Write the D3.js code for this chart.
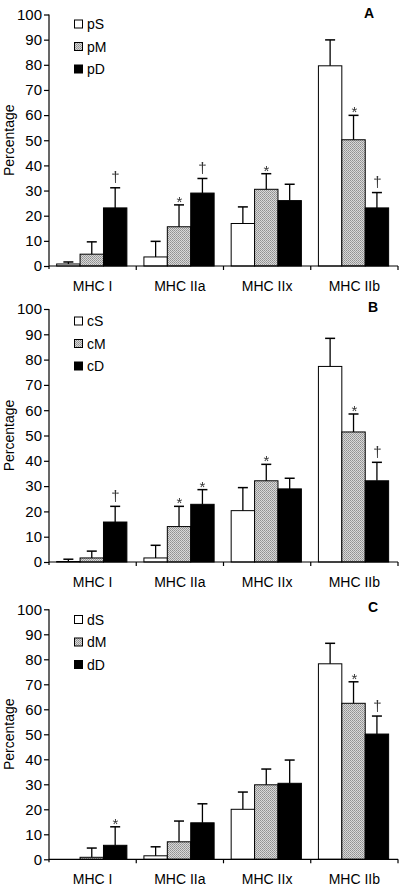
<!DOCTYPE html>
<html>
<head>
<meta charset="utf-8">
<script src="https://cdn.jsdelivr.net/npm/d3@7"></script>
<style>
  html, body { margin: 0; padding: 0; background: #fff; }
  svg { display: block; font-family: Arial, "Liberation Sans", sans-serif; }
  .sig { filter: grayscale(1); }
</style>
</head>
<body>
<svg id="chart" width="400" height="888"></svg>
<script>
// ---------- data ----------
const categories = ["MHC I", "MHC IIa", "MHC IIx", "MHC IIb"];
const yTicks = [0, 10, 20, 30, 40, 50, 60, 70, 80, 90, 100];
const panelLabels = ["A", "B", "C"];

// Panel A
const namesA = ["pS", "pM", "pD"];
const pS = [0.8, 3.6, 16.9, 79.6];
const pS_err = [0.8, 6.2, 6.6, 10.3];
const pS_sig = ["", "", "", ""];
const pM = [4.7, 15.6, 30.5, 50.2];
const pM_err = [4.9, 8.7, 6.2, 9.7];
const pM_sig = ["", "*", "*", "*"];
const pD = [23.1, 29.0, 26.0, 23.1];
const pD_err = [8.0, 5.8, 6.5, 6.1];
const pD_sig = ["†", "†", "", "†"];

// Panel B
const namesB = ["cS", "cM", "cD"];
const cS = [0.2, 1.6, 20.3, 77.3];
const cS_err = [0.9, 5.0, 9.1, 11.1];
const cS_sig = ["", "", "", ""];
const cM = [1.6, 14.0, 32.1, 51.4];
const cM_err = [2.7, 8.0, 6.5, 7.1];
const cM_sig = ["", "*", "*", "*"];
const cD = [15.8, 22.8, 28.9, 32.1];
const cD_err = [6.2, 5.8, 4.2, 7.3];
const cD_sig = ["†", "*", "", "†"];

// Panel C
const namesC = ["dS", "dM", "dD"];
const dS = [0, 1.4, 20.0, 78.2];
const dS_err = [0, 3.6, 6.9, 8.2];
const dS_sig = ["", "", "", ""];
const dM = [0.8, 7.0, 29.8, 62.4];
const dM_err = [3.7, 8.3, 6.3, 8.6];
const dM_sig = ["", "", "", "*"];
const dD = [5.6, 14.6, 30.4, 50.1];
const dD_err = [7.4, 7.6, 9.3, 7.2];
const dD_sig = ["*", "", "", "†"];

// ---------- layout ----------
const panels = [
  { label: panelLabels[0], names: namesA, vals: [pS, pM, pD], errs: [pS_err, pM_err, pD_err], sigs: [pS_sig, pM_sig, pD_sig],
    top: 14.5, bottom: 266, labelX: 369, legendY: 24 },
  { label: panelLabels[1], names: namesB, vals: [cS, cM, cD], errs: [cS_err, cM_err, cD_err], sigs: [cS_sig, cM_sig, cD_sig],
    top: 309, bottom: 562, labelX: 373, legendY: 321 },
  { label: panelLabels[2], names: namesC, vals: [dS, dM, dD], errs: [dS_err, dM_err, dD_err], sigs: [dS_sig, dM_sig, dD_sig],
    top: 609.3, bottom: 859.3, labelX: 373, legendY: 619.5 }
];
const left = 49, right = 398;

const svg = d3.select("#chart");

// stipple pattern for the middle series
const defs = svg.append("defs");
const pat = defs.append("pattern").attr("id", "stipple")
  .attr("patternUnits", "userSpaceOnUse").attr("width", 2).attr("height", 2);
pat.append("rect").attr("width", 2).attr("height", 2).attr("fill", "#d8d8d8");
pat.append("rect").attr("x", 0).attr("y", 0).attr("width", 1).attr("height", 1).attr("fill", "#909090");
pat.append("rect").attr("x", 1).attr("y", 1).attr("width", 1).attr("height", 1).attr("fill", "#a0a0a0");

const fills = ["#ffffff", "url(#stipple)", "#000000"];

const x = d3.scaleBand().domain(categories).range([left, right]).paddingInner(0).paddingOuter(0);

panels.forEach(p => {
  const g = svg.append("g");
  const y = d3.scaleLinear().domain([0, 100]).range([p.bottom, p.top]);
  const xs = d3.scaleBand().domain(p.names).range([0, x.bandwidth()])
    .paddingInner(0).paddingOuter(0.364).align(0.45);

  // y axis
  const ya = g.append("g").attr("transform", `translate(${left},0)`)
    .call(d3.axisLeft(y).tickValues(yTicks).tickSize(5).tickSizeOuter(0).tickPadding(2));
  ya.select(".domain").attr("stroke", "#000").attr("stroke-width", 1.2)
    .attr("d", `M0,${p.top}V${p.bottom + 3}`);
  ya.selectAll(".tick line").attr("stroke", "#000").attr("stroke-width", 1.2);
  ya.selectAll(".tick text").attr("font-size", 15).attr("fill", "#000")
    .attr("font-family", "Arial, 'Liberation Sans', sans-serif");

  // y label
  g.append("text")
    .attr("transform", `translate(14,${(p.top + p.bottom) / 2}) rotate(-90)`)
    .attr("text-anchor", "middle").attr("font-size", 14).text("Percentage");

  // bars
  p.names.forEach((nm, si) => {
    categories.forEach((cat, ci) => {
      const v = p.vals[si][ci];
      const e = p.errs[si][ci];
      const bx = x(cat) + xs(nm);
      const bw = xs.bandwidth();
      const cx = bx + bw / 2;
      if (v > 0) {
        g.append("rect").attr("x", bx).attr("y", y(v))
          .attr("width", bw).attr("height", y(0) - y(v))
          .attr("fill", fills[si]).attr("stroke", "#000").attr("stroke-width", 1);
      }
      if (e > 0) {
        g.append("line").attr("x1", cx).attr("x2", cx).attr("y1", y(v)).attr("y2", y(v + e))
          .attr("stroke", "#000").attr("stroke-width", 1.3);
        g.append("line").attr("x1", cx - 5).attr("x2", cx + 5).attr("y1", y(v + e)).attr("y2", y(v + e))
          .attr("stroke", "#000").attr("stroke-width", 1.5);
      }
      const s = p.sigs[si][ci];
      if (s) {
        const yt = y(v + e);
        g.append("text").attr("class", "sig").attr("x", Math.round(cx) + 0.5).attr("text-anchor", "middle")
          .attr("y", s === "*" ? yt + 2 : yt - 5.5)
          .attr("font-size", 15)
          .attr("fill", "#333").text(s);
      }
    });
  });

  // x axis
  g.append("line").attr("x1", left).attr("x2", right).attr("y1", y(0)).attr("y2", y(0))
    .attr("stroke", "#000").attr("stroke-width", 1.2);
  const bounds = categories.map(c => x(c) + x.bandwidth());
  g.selectAll(".xtick").data(bounds).enter().append("line")
    .attr("x1", d => d).attr("x2", d => d).attr("y1", y(0)).attr("y2", y(0) + 4)
    .attr("stroke", "#000").attr("stroke-width", 1.2);
  g.selectAll(".xlab").data(categories).enter().append("text")
    .attr("x", d => x(d) + x.bandwidth() / 2).attr("y", y(0) + 25)
    .attr("text-anchor", "middle").attr("font-size", 14).text(d => d);

  // legend
  p.names.forEach((nm, si) => {
    const ly = p.legendY + si * 22.5;
    g.append("rect").attr("x", 74.5).attr("y", ly - 4).attr("width", 8).attr("height", 8)
      .attr("fill", fills[si]).attr("stroke", "#000").attr("stroke-width", 1);
    g.append("text").attr("x", 87).attr("y", ly + 5).attr("font-size", 14).text(nm);
  });

  // panel label
  g.append("text").attr("x", p.labelX).attr("y", p.top + 3).attr("text-anchor", "middle")
    .attr("font-size", 14).attr("font-weight", "bold").text(p.label);
});
</script>
</body>
</html>
